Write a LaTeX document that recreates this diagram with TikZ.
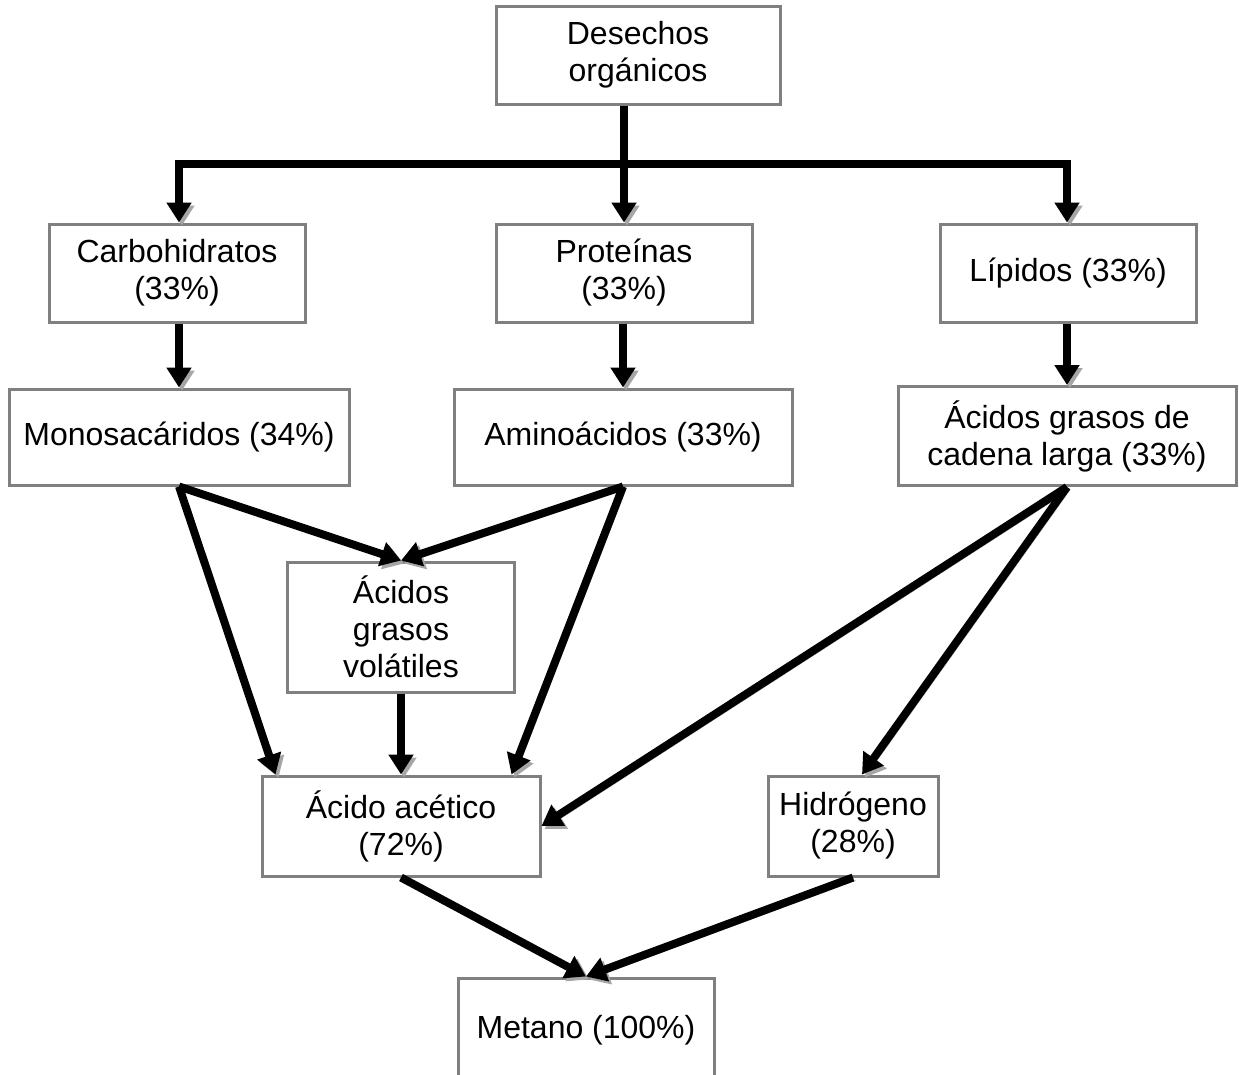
\documentclass[tikz,border=0pt]{standalone}
\usepackage{fontspec}
\setmainfont{Liberation Sans}
\usetikzlibrary{arrows.meta}
\tikzset{
	>={Triangle[length=20pt,width=24pt]},
	caja/.style={draw=black!50, line width=3pt, inner sep=0pt, align=center, fill=white, font=\fontsize{32}{37}\selectfont},
	flecha/.style={draw, line width=8pt, ->, preaction={draw=black!35, transform canvas={shift={(3pt,-3pt)}}}},
	rama/.style={flecha, <->, line join=miter}
}

\begin{document}
\begin{tikzpicture}[x=1pt,y=-1pt]
\useasboundingbox (0,0) rectangle (1239,1074);
\node[caja, minimum width=284pt, minimum height=98pt]	(desechos)	at (638,55)		{Desechos\\orgánicos};
\node[caja, minimum width=256pt, minimum height=98pt]	(carb)		at (177,273)	{Carbohidratos\\(33\%)};
\node[caja, minimum width=256pt, minimum height=98pt]	(prot)		at (624,273)	{Proteínas\\(33\%)};
\node[caja, minimum width=256pt, minimum height=98pt]	(lip)		at (1068,273)	{Lípidos (33\%)};
\node[caja, minimum width=340pt, minimum height=96pt]	(mono)		at (179,437)	{Monosacáridos (34\%)};
\node[caja, minimum width=338pt, minimum height=96pt]	(amino)		at (623,437)	{Aminoácidos (33\%)};
\node[caja, minimum width=338pt, minimum height=99pt]	(agcl)		at (1067,436)	{Ácidos grasos de\\cadena larga (33\%)};
\node[caja, minimum width=227pt, minimum height=130pt]	(agv)		at (401,627)	{Ácidos\\grasos\\volátiles};
\node[caja, minimum width=278pt, minimum height=100pt]	(acetico)	at (401,826)	{Ácido acético\\(72\%)};
\node[caja, minimum width=170pt, minimum height=100pt]	(hidro)		at (853,826)	{Hidrógeno\\(28\%)};
\node[caja, minimum width=256pt, minimum height=104pt]	(metano)	at (586,1030)	{Metano (100\%)};
\coordinate (reparto) at (624,164);

\draw[rama] (carb.north -| mono.north) -- (mono.north |- reparto) -- (agcl.north |- reparto) -- (lip.north -| agcl.north);
\path
(desechos.south -| prot.north)	edge[flecha]	(prot.north)
(carb.south -| mono.north)		edge[flecha]	(mono.north)
(prot.south -| amino.north)		edge[flecha]	(amino.north)
(lip.south -| agcl.north)		edge[flecha]	(agcl.north)
(mono.south)	edge[flecha]	(agv.north)
				edge[flecha]	([xshift=15pt]acetico.north west)
(amino.south)	edge[flecha]	(agv.north)
				edge[flecha]	([xshift=-30pt]acetico.north east)
(agv.south)		edge[flecha]	(acetico.north)
(agcl.south)	edge[flecha]	(acetico.east)
				edge[flecha]	([xshift=9pt]hidro.north)
(acetico.south)	edge[flecha]	(metano.north)
(hidro.south)	edge[flecha]	(metano.north)
;
\end{tikzpicture}
\end{document}
